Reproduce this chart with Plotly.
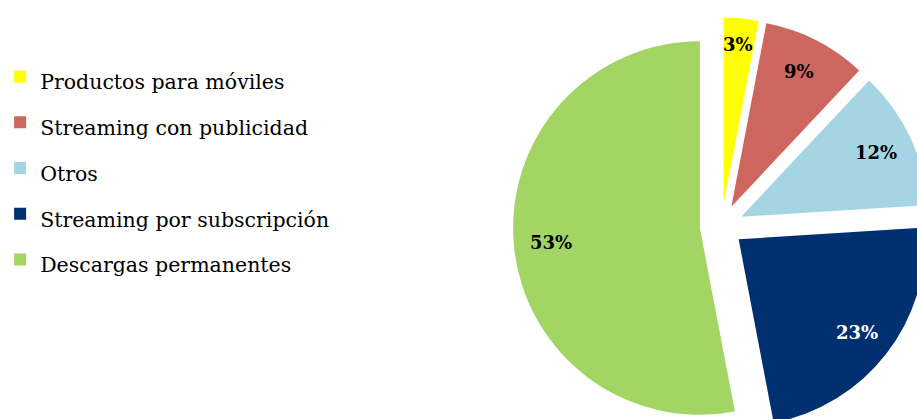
import math
import plotly.graph_objects as go

# Revenue share by channel
categories = [
    "Productos para móviles",
    "Streaming con publicidad",
    "Otros",
    "Streaming por subscripción",
    "Descargas permanentes",
]
shares = [3, 9, 12, 23, 53]
colors = ["#FFFF00", "#CD665F", "#A5D5E3", "#003070", "#A2D563"]
label_colors = ["black", "black", "black", "white", "black"]

FIG_W, FIG_H = 930, 437
PIE_LEFT = 508
PIE_BOX = 422
PULL = 0.1164
LEGEND_FONT_PX = 20.5

legend_labels = [
    f"<span style='font-size:{LEGEND_FONT_PX}px'>{c}</span>" for c in categories
]

fig = go.Figure(
    go.Pie(
        labels=legend_labels,
        values=shares,
        sort=False,
        direction="clockwise",
        rotation=0,
        pull=[PULL] * len(shares),
        marker=dict(colors=colors, line=dict(width=0)),
        textinfo="none",
        domain=dict(x=[PIE_LEFT / FIG_W, 1], y=[0, PIE_BOX / FIG_H]),
        hoverinfo="skip",
    )
)

# Percentage labels sit along each slice's bisector, ~80% of the way out
cx = (PIE_LEFT + FIG_W) / 2
cy = FIG_H - PIE_BOX / 2
radius = PIE_BOX / 2 / (1 + PULL)
total = sum(shares)
cum = 0
for share, col in zip(shares, label_colors):
    mid = 2 * math.pi * (cum + share / 2) / total
    cum += share
    frac = 0.85 if share / total < 0.05 else 0.80
    dist = radius * (PULL + frac)
    px = cx + dist * math.sin(mid)
    py = cy - dist * math.cos(mid)
    fig.add_annotation(
        x=px / FIG_W, y=1 - py / FIG_H, xref="paper", yref="paper",
        text=f"{share}%", showarrow=False,
        xanchor="center", yanchor="middle",
        font=dict(family="DejaVu Serif", size=18, weight="bold", color=col),
    )

fig.update_layout(
    width=FIG_W,
    height=FIG_H,
    margin=dict(l=0, r=0, t=0, b=0),
    paper_bgcolor="white",
    plot_bgcolor="white",
    showlegend=True,
    legend=dict(
        x=-11 / FIG_W,
        xanchor="left",
        y=1 - 48.5 / FIG_H,
        yanchor="top",
        font=dict(family="DejaVu Serif", size=32.9, color="black"),
        bgcolor="rgba(0,0,0,0)",
        traceorder="normal",
    ),
)

fig.write_html(
    "out.html",
    post_script="document.documentElement.style.overflow='hidden';"
                "document.body.style.overflow='hidden';document.body.style.margin='0';",
)
